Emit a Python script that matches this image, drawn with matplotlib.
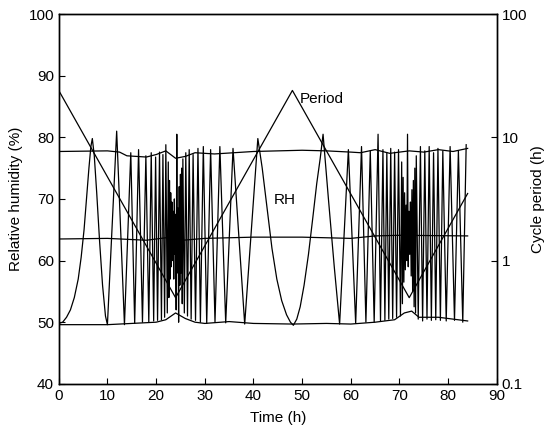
import matplotlib
matplotlib.use("Agg")
import matplotlib.pyplot as plt

plt.rcParams['font.family'] = ['Liberation Sans', 'DejaVu Sans']

# cycle period schedule (right axis, log)
period_t = [0, 24, 48, 72, 84]
period_h = [24, 0.5, 24, 0.5, 3.5]

rh_t = [0.0, 0.8, 1.6, 2.4, 3.2, 4.0, 4.6, 5.2, 5.7, 6.2, 6.6, 6.9, 7.3, 7.8, 8.4, 9.0, 9.6, 10.0,
        11.9, 13.5,
        14.8, 15.6, 16.4, 17.2, 17.9, 18.5, 19.0, 19.5, 19.9, 20.3, 20.7, 21.1, 21.4, 21.75, 22.0, 22.3,
        22.5, 22.625, 22.75, 22.875, 23.0, 23.125, 23.25, 23.375, 23.5, 23.625, 23.75, 23.875,
        24.0, 24.125, 24.25, 24.375, 24.5, 24.625, 24.75, 24.875, 25.0, 25.125, 25.25, 25.375,
        25.5, 25.8, 26.1, 26.45, 26.8, 27.2, 27.6, 28.1, 28.6, 29.1, 29.7, 30.4, 31.2, 32.1, 33.1, 34.3, 35.8, 38.2,
        40.9, 41.8, 42.8, 43.8, 44.8, 45.8, 46.8, 47.6, 48.2, 48.9, 49.6, 50.4, 51.3, 52.2, 53.0, 53.7, 54.3, 55.4, 56.6, 57.7,
        59.5, 61.0, 62.2, 63.1, 64.0, 64.8, 65.6, 66.1, 66.6, 67.0, 67.4, 67.8, 68.2, 68.6, 69.0, 69.4, 69.8, 70.2,
        70.45, 70.6, 70.75, 70.9, 71.05, 71.2, 71.35, 71.5, 71.65, 71.8, 71.95, 72.1, 72.25, 72.4, 72.55,
        72.7, 72.85, 73.0, 73.15, 73.3, 73.45,
        73.85, 74.3, 74.75, 75.2, 75.65, 76.1, 76.55, 77.0, 77.45, 77.9, 78.4, 78.9, 79.6, 80.4, 81.3, 82.1, 83.0, 83.7]
rh_v = [49.8, 50.0, 50.8, 52.0, 54.0, 57.0, 60.5, 65.0, 70.0, 75.0, 78.5, 79.8, 77.0, 71.0, 63.0, 56.0, 51.0, 49.6,
        81.0, 49.6,
        77.5, 49.8, 78.0, 50.0, 77.0, 50.0, 77.5, 50.2, 76.8, 50.3, 77.6, 50.4, 77.2, 50.8, 78.8, 51.5,
        76.0, 54.0, 73.0, 57.0, 71.0, 59.0, 69.5, 60.0, 68.0, 57.0, 70.0, 61.0,
        67.5, 52.0, 80.5, 58.0, 68.5, 50.0, 72.0, 56.0, 74.0, 58.0, 75.0, 53.0,
        76.5, 51.5, 77.5, 51.0, 78.0, 50.5, 77.2, 50.3, 78.2, 50.0, 78.5, 49.8, 78.0, 50.0, 78.5, 49.9, 78.2, 49.7,
        79.8, 75.0, 68.5, 62.0, 57.0, 53.5, 51.2, 50.0, 49.5, 50.5, 52.5, 56.0, 61.0, 67.0, 72.5, 76.5, 80.5, 70.0, 59.0, 49.7,
        78.0, 49.8, 78.5, 50.0, 77.8, 50.0, 80.5, 50.2, 78.0, 50.3, 77.5, 50.5, 78.2, 50.6, 77.6, 50.8, 78.0, 51.0,
        76.0, 53.0, 73.5, 56.5, 71.0, 58.5, 69.0, 60.0, 80.5, 59.0, 68.0, 61.0, 69.5, 57.5, 71.5,
        55.0, 73.0, 52.5, 75.0, 51.5, 77.0,
        50.5, 78.5, 50.2, 77.8, 50.5, 78.5, 50.3, 77.5, 50.4, 78.2, 50.3, 77.8, 50.2, 78.5, 50.3, 77.8, 50.0, 78.8]

# max / mean / min traces
top_t = [0, 10, 12.5, 14, 18, 20, 22, 24, 26, 28, 32, 36, 40, 45, 50, 55, 60, 62, 65, 68, 72, 75, 78, 81, 84]
top_v = [77.7, 77.8, 77.6, 77.0, 76.8, 77.2, 77.8, 76.6, 76.9, 77.5, 77.3, 77.5, 77.7, 77.8, 77.9, 77.8,
         77.6, 77.5, 78.0, 77.4, 77.8, 77.6, 78.0, 77.7, 78.2]
mid_t = [0, 10, 18, 22, 24, 30, 40, 50, 60, 65, 70, 84]
mid_v = [63.5, 63.6, 63.3, 63.7, 63.2, 63.6, 63.8, 63.8, 63.6, 64.0, 64.1, 64.0]
bot_t = [0, 10, 20, 22, 24, 26, 28, 30, 35, 40, 48, 55, 60, 65, 69, 71, 72.5, 74, 78, 84]
bot_v = [49.6, 49.6, 50.0, 50.4, 51.5, 50.6, 50.0, 49.8, 50.1, 49.8, 49.7, 49.8, 49.7, 50.0, 50.4,
         51.5, 51.8, 50.8, 50.8, 50.2]

fig = plt.figure(figsize=(5.49, 4.26), dpi=100)
ax = fig.add_axes([0.107, 0.099, 0.798, 0.868])
ax2 = ax.twinx()

lw = 0.9
ax.plot(rh_t, rh_v, color='black', lw=lw)
ax.plot(top_t, top_v, color='black', lw=lw)
ax.plot(mid_t, mid_v, color='black', lw=lw)
ax.plot(bot_t, bot_v, color='black', lw=lw)
ax2.plot(period_t, period_h, color='black', lw=lw)

ax.set_xlim(0, 90)
ax.set_ylim(40, 100)
ax.set_xticks(range(0, 91, 10))
ax.set_yticks(range(40, 101, 10))
ax2.set_yscale('log')
ax2.set_ylim(0.1, 100)
ax2.set_yticks([0.1, 1, 10, 100])
ax2.set_yticklabels(['0.1', '1', '10', '100'])
ax2.minorticks_off()

for a in (ax, ax2):
    a.tick_params(direction='in', length=4, width=0.8, labelsize=11)
    for s in a.spines.values():
        s.set_linewidth(1.0)

ax.set_xlabel('Time (h)', fontsize=11, labelpad=6)
ax.set_ylabel('Relative humidity (%)', fontsize=11, labelpad=4)
ax2.set_ylabel('Cycle period (h)', fontsize=11, labelpad=3)

ax.text(49.5, 86.2, 'Period', fontsize=11, va='center')
ax.text(44.2, 69.8, 'RH', fontsize=11, va='center')

fig.savefig('out.png', dpi=100)
